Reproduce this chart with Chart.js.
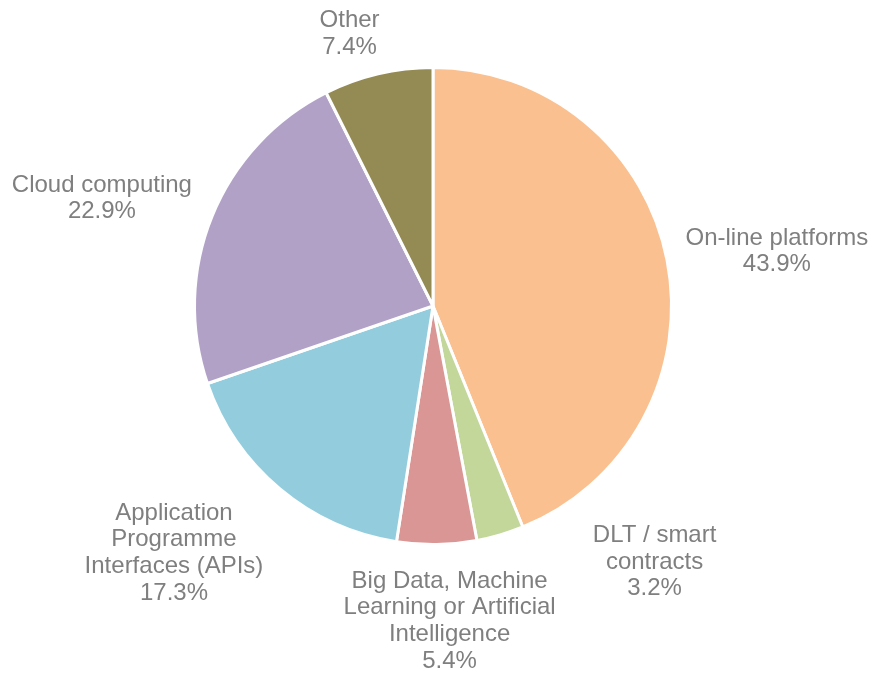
<!DOCTYPE html>
<html>
<head>
<meta charset="utf-8">
<script src="https://cdn.jsdelivr.net/npm/chart.js@4.4.1/dist/chart.umd.min.js"></script>
<style>
  html, body { margin: 0; padding: 0; background: #ffffff; }
  #wrap { width: 874px; height: 675px; position: relative; }
</style>
</head>
<body>
<div id="wrap"><canvas id="pieChart"></canvas></div>
<script>
// Dados do gráfico
const categories = [
    'On-line platforms',
    ['DLT / smart', 'contracts'],
    ['Big Data, Machine', 'Learning or Artificial', 'Intelligence'],
    ['Application', 'Programme', 'Interfaces (APIs)'],
    'Cloud computing',
    'Other'
];
const shares = [43.9, 3.2, 5.4, 17.3, 22.9, 7.4];
const sliceColors = ['#FAC090', '#C4D79B', '#D99694', '#93CDDD', '#B2A1C7', '#948A54'];

// Posição dos rótulos, relativa ao centro e em unidades do raio
const labelOffsets = [
    [1.451, -0.230],
    [0.935, 1.080],
    [0.070, 1.329],
    [-1.093, 1.042],
    [-1.397, -0.454],
    [-0.352, -1.148]
];

const outsideLabels = {
    id: 'outsideLabels',
    afterDatasetsDraw(chart) {
        const ctx = chart.ctx;
        const meta = chart.getDatasetMeta(0);
        ctx.save();
        ctx.font = '24px "Liberation Sans", Arial, sans-serif';
        ctx.fillStyle = '#7F7F7F';
        ctx.textAlign = 'center';
        ctx.textBaseline = 'middle';
        const lineH = 26.7;
        meta.data.forEach((arc, i) => {
            const { x, y, outerRadius } = arc.getProps(['x', 'y', 'outerRadius'], true);
            const r = outerRadius - 1.5;
            const cat = categories[i];
            const lines = (Array.isArray(cat) ? cat.slice() : [cat]);
            lines.push(shares[i].toFixed(1) + '%');
            const cx = x + labelOffsets[i][0] * r;
            const cy = y + labelOffsets[i][1] * r;
            const top = cy - (lines.length - 1) * lineH / 2;
            lines.forEach((t, k) => ctx.fillText(t, cx, top + k * lineH));
        });
        ctx.restore();
    }
};

const ctx = document.getElementById('pieChart').getContext('2d');
new Chart(ctx, {
    type: 'pie',
    data: {
        labels: categories,
        datasets: [{
            data: shares,
            backgroundColor: sliceColors,
            borderColor: '#FFFFFF',
            borderWidth: 3
        }]
    },
    options: {
        responsive: true,
        maintainAspectRatio: false,
        animation: false,
        radius: 238.5,
        layout: { padding: { left: 20, right: 28, top: 20, bottom: 83 } },
        plugins: { legend: { display: false }, tooltip: { enabled: false } }
    },
    plugins: [outsideLabels]
});
</script>
</body>
</html>
